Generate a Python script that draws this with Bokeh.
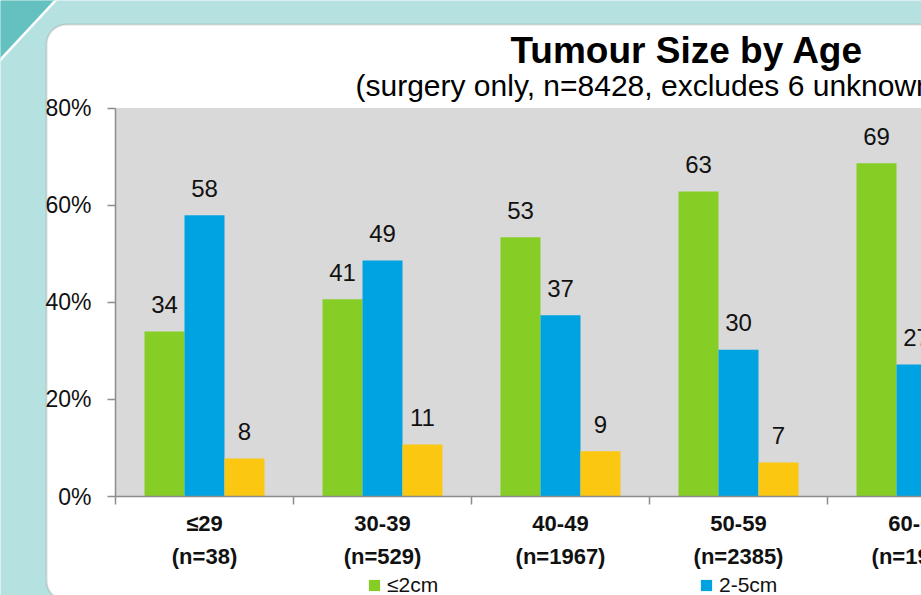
from bokeh.plotting import figure
from bokeh.models import (Range1d, LinearAxis, FixedTicker, BoxAnnotation, Legend, LegendItem)
from bokeh.core.properties import value
from bokeh.embed import file_html
from bokeh.resources import INLINE

# ---------------- data ----------------
categories = ["≤29", "30-39", "40-49", "50-59", "60-69"]
cat_counts = ["(n=38)", "(n=529)", "(n=1967)", "(n=2385)", "(n=1954)"]
series_names = ["≤2cm", "2-5cm", ">5cm"]
small = [34.0, 40.6, 53.4, 62.8, 68.6]   # ≤2cm
mid = [57.9, 48.6, 37.3, 30.2, 27.2]     # 2-5cm
large = [7.8, 10.7, 9.3, 7.0, 4.2]       # >5cm
y_ticks = [0, 20, 40, 60, 80]
y_tick_labels = ["0%", "20%", "40%", "60%", "80%"]
title_text = "Tumour Size by Age"
subtitle_text = "(surgery only, n=8428, excludes 6 unknown)"

# ---------------- layout constants (pixels) ----------------
W, H = 921, 595
FIG_LEFT, FIG_TOP = 0, 0
X0_PX, CAT_PX = 115.0, 178.0
Y0_PX = 496.0
PCT_PX = (496.0 - 107.5) / 80.0
BAR_W = 40.0 / CAT_PX
BASE_SHIFT = 0.4   # empirical baseline correction (em)

def px_x(px):
    return (px - X0_PX) / CAT_PX

def px_y(py):
    return (Y0_PX - py) / PCT_PX

def base_y(py, fs):
    # anchor for a text whose visible baseline should sit at pixel row py
    return px_y(py - BASE_SHIFT * fs)

x_range = Range1d(px_x(FIG_LEFT), px_x(FIG_LEFT + W))
y_range = Range1d(px_y(FIG_TOP + H), px_y(FIG_TOP))

SANS = "'Liberation Sans', Arial, sans-serif"

GREEN = "#86cd26"
BLUE = "#00a3e2"
YELLOW = "#fbc711"
LIGHT_TEAL = "#b5e2e1"
DARK_TEAL = "#64c1c0"
PLOT_GRAY = "#d9d9d9"
AXIS_GRAY = "#8c8c8c"

p = figure(width=W, height=H, x_range=x_range, y_range=y_range,
           toolbar_location=None, output_backend="svg", tools="",
           x_axis_type=None, y_axis_type=None, min_border=0,
           outline_line_color=None)
p.background_fill_color = LIGHT_TEAL
p.border_fill_color = LIGHT_TEAL

# decorative corner
p.patch([px_x(-20), px_x(75), px_x(-20)], [px_y(80.5), px_y(-21.5), px_y(-21.5)],
        fill_color=DARK_TEAL, line_color=None, level="image")
p.line([px_x(-20), px_x(75)], [px_y(80.5), px_y(-21.5)], line_color="white", line_width=2.5)

# white rounded panel
panel = BoxAnnotation(left=px_x(46), right=px_x(1100), top=px_y(24), bottom=px_y(600),
                      fill_color="white", fill_alpha=1, line_color="#8f8f8f", line_width=2,
                      border_radius=20, level="underlay")
p.add_layout(panel)

# grey plot area
area = BoxAnnotation(left=0, right=px_x(1100), bottom=0, top=80,
                     fill_color=PLOT_GRAY, fill_alpha=1, line_color=None, level="underlay")
p.add_layout(area)

# bars
n = len(categories)
offsets = [-BAR_W, 0.0, BAR_W]
colors = [GREEN, BLUE, YELLOW]
series = [small, mid, large]
LABEL_FS = 24
renderers = []
for vals, off, col in zip(series, offsets, colors):
    xs = [i + 0.5 + off for i in range(n)]
    r = p.vbar(x=xs, top=vals, bottom=0, width=BAR_W, fill_color=col, line_color=None)
    renderers.append(r)
    labels = [str(int(v + 0.5)) for v in vals]
    ys = [v + (17.5 + BASE_SHIFT * LABEL_FS) / PCT_PX for v in vals]
    p.text(x=xs, y=ys, text=labels, text_align="center", text_baseline="alphabetic",
           text_font=value(SANS), text_font_size=f"{LABEL_FS}px", text_color="#111111")

# axes
yaxis = LinearAxis(fixed_location=0, bounds=(0, 80),
                   ticker=FixedTicker(ticks=y_ticks, minor_ticks=[]))
yaxis.major_label_overrides = {t: l for t, l in zip(y_ticks, y_tick_labels)}
yaxis.axis_line_color = AXIS_GRAY
yaxis.axis_line_width = 1.5
yaxis.major_tick_line_color = AXIS_GRAY
yaxis.major_tick_line_width = 1.5
yaxis.major_tick_out = 8
yaxis.major_tick_in = 0
yaxis.minor_tick_line_color = None
yaxis.major_label_standoff = 16
yaxis.major_label_text_font = SANS
yaxis.major_label_text_font_size = "23px"
yaxis.major_label_text_color = "#111111"
p.add_layout(yaxis, "left")

x_ticks = [i + 0.5 for i in range(n)]
xaxis = LinearAxis(fixed_location=0, bounds=(0, 6),
                   ticker=FixedTicker(ticks=x_ticks, minor_ticks=list(range(n + 2))))
xaxis.major_label_text_color = None
xaxis.axis_line_color = AXIS_GRAY
xaxis.axis_line_width = 1.5
xaxis.major_tick_line_color = None
xaxis.major_tick_out = 0
xaxis.major_tick_in = 0
xaxis.minor_tick_line_color = AXIS_GRAY
xaxis.minor_tick_line_width = 1.5
xaxis.minor_tick_out = 8
xaxis.minor_tick_in = 0
p.add_layout(xaxis, "below")

# category labels (two lines, bold)
CAT_FS = 22
p.text(x=x_ticks, y=[base_y(532, CAT_FS)] * n, text=categories, text_align="center",
       text_baseline="alphabetic", text_font=value(SANS), text_font_style="bold",
       text_font_size=f"{CAT_FS}px", text_color="#111111")
p.text(x=x_ticks, y=[base_y(565, CAT_FS)] * n, text=cat_counts, text_align="center",
       text_baseline="alphabetic", text_font=value(SANS), text_font_style="bold",
       text_font_size=f"{CAT_FS}px", text_color="#111111")

# title
p.text(x=[px_x(510)], y=[base_y(65, 37)], text=[title_text], text_align="left",
       text_baseline="alphabetic", text_font=value(SANS), text_font_style="bold",
       text_font_size="37px", text_color="#000000")
p.text(x=[px_x(355)], y=[base_y(97, 30)], text=[subtitle_text], text_align="left",
       text_baseline="alphabetic", text_font=value(SANS),
       text_font_size="30px", text_color="#000000")

# legend
legend = Legend(items=[LegendItem(label=nm, renderers=[r]) for nm, r in zip(series_names, renderers)],
                orientation="horizontal", location=(367, -2))
legend.padding = 0
legend.margin = 0
legend.spacing = 0
legend.glyph_width = 14
legend.glyph_height = 14
legend.label_standoff = 6
legend.label_width = 312
legend.label_height = 14
legend.label_text_font = SANS
legend.label_text_font_size = "21px"
legend.label_text_color = "#111111"
legend.background_fill_alpha = 0
legend.border_line_color = None
p.add_layout(legend, "center")

open("out.html", "w").write(file_html(p, INLINE))
